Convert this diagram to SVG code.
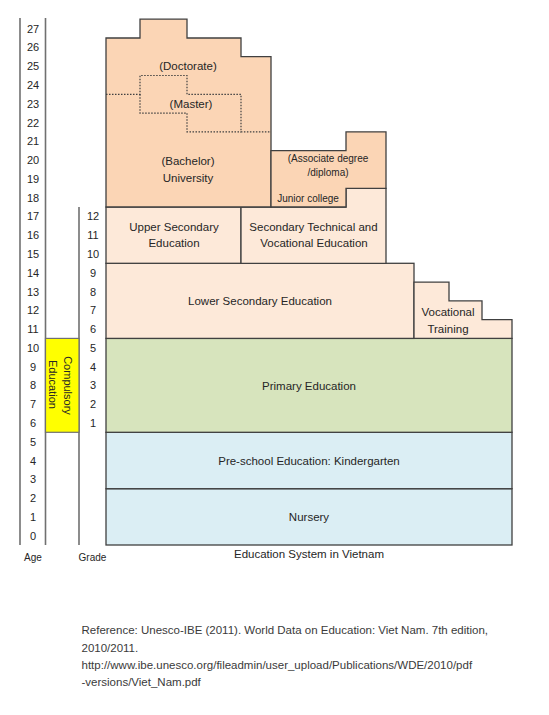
<svg xmlns="http://www.w3.org/2000/svg" width="549" height="715" viewBox="0 0 549 715">
<style>
text{font-family:"Liberation Sans",Arial,sans-serif;fill:#262626;}
.t{font-size:11.5px;text-anchor:middle;}
.s{font-size:10px;text-anchor:middle;}
.ax{font-size:11px;text-anchor:middle;}
.ref{font-size:11.5px;fill:#3a3a3a;}
.box{stroke:#404040;stroke-width:1.3;}
.uni{fill:#FBD5B5;}
.lt{fill:#FDE9D9;}
.grn{fill:#D7E4BD;}
.blu{fill:#DBEEF4;}
.dot{fill:none;stroke:#404040;stroke-width:1.2;stroke-dasharray:1.5,1.5;}
.axis{stroke:#707070;stroke-width:1.6;fill:none;}
</style>
<rect width="549" height="715" fill="#ffffff"/>

<g id="axes">
<line class="axis" x1="20" y1="18" x2="20" y2="545"/>
<line class="axis" x1="45.5" y1="18" x2="45.5" y2="545"/>
<line class="axis" x1="79" y1="207" x2="79" y2="545"/>
</g>

<g id="compulsory">
<rect x="45.5" y="338.4" width="33.5" height="93.9" fill="#FFFF00" stroke="#707070" stroke-width="1.2"/>
<text class="ax" transform="translate(64,385.5) rotate(90)">Compulsory</text>
<text class="ax" transform="translate(48.5,384.5) rotate(90)">Education</text>
</g>

<g id="age-labels" class="ax">
<text class="ax" x="33" y="539.6">0</text>
<text class="ax" x="33" y="520.8">1</text>
<text class="ax" x="33" y="502.1">2</text>
<text class="ax" x="33" y="483.3">3</text>
<text class="ax" x="33" y="464.5">4</text>
<text class="ax" x="33" y="445.7">5</text>
<text class="ax" x="33" y="426.9">6</text>
<text class="ax" x="33" y="408.2">7</text>
<text class="ax" x="33" y="389.4">8</text>
<text class="ax" x="33" y="370.6">9</text>
<text class="ax" x="33" y="351.8">10</text>
<text class="ax" x="33" y="333.1">11</text>
<text class="ax" x="33" y="314.3">12</text>
<text class="ax" x="33" y="295.5">13</text>
<text class="ax" x="33" y="276.7">14</text>
<text class="ax" x="33" y="257.9">15</text>
<text class="ax" x="33" y="239.2">16</text>
<text class="ax" x="33" y="220.4">17</text>
<text class="ax" x="33" y="201.6">18</text>
<text class="ax" x="33" y="182.8">19</text>
<text class="ax" x="33" y="164.0">20</text>
<text class="ax" x="33" y="145.3">21</text>
<text class="ax" x="33" y="126.5">22</text>
<text class="ax" x="33" y="107.7">23</text>
<text class="ax" x="33" y="88.9">24</text>
<text class="ax" x="33" y="70.2">25</text>
<text class="ax" x="33" y="51.4">26</text>
<text class="ax" x="33" y="32.6">27</text>
</g>

<g id="grade-labels">
<text class="ax" x="93" y="426.9">1</text>
<text class="ax" x="93" y="408.2">2</text>
<text class="ax" x="93" y="389.4">3</text>
<text class="ax" x="93" y="370.6">4</text>
<text class="ax" x="93" y="351.8">5</text>
<text class="ax" x="93" y="333.1">6</text>
<text class="ax" x="93" y="314.3">7</text>
<text class="ax" x="93" y="295.5">8</text>
<text class="ax" x="93" y="276.7">9</text>
<text class="ax" x="93" y="257.9">10</text>
<text class="ax" x="93" y="239.2">11</text>
<text class="ax" x="93" y="220.4">12</text>
</g>

<g id="nursery">
<rect class="box blu" x="106" y="488.7" width="406" height="56.3"/>
<text class="t" x="309" y="521">Nursery</text>
</g>
<g id="preschool">
<rect class="box blu" x="106" y="432.3" width="406" height="56.4"/>
<text class="t" x="309" y="464.5">Pre-school Education: Kindergarten</text>
</g>
<g id="primary">
<rect class="box grn" x="106" y="338.4" width="406" height="93.9"/>
<text class="t" x="309" y="389.5">Primary Education</text>
</g>
<g id="lower-secondary">
<rect class="box lt" x="106" y="263.3" width="308" height="75.1"/>
<text class="t" x="260" y="305">Lower Secondary Education</text>
</g>
<g id="vocational-training">
<path class="box lt" d="M414,338.4 L414,282.1 L449,282.1 L449,300.9 L482,300.9 L482,319.6 L512,319.6 L512,338.4 Z"/>
<text class="t" x="448" y="315.5">Vocational</text>
<text class="t" x="448" y="333">Training</text>
</g>
<g id="upper-secondary">
<rect class="box lt" x="106" y="207" width="135" height="56.3"/>
<text class="t" x="174" y="230.7">Upper Secondary</text>
<text class="t" x="174" y="247.3">Education</text>
</g>
<g id="secondary-technical">
<path class="box lt" d="M241,207 L346,207 L346,188.3 L386,188.3 L386,263.3 L241,263.3 Z"/>
<text class="t" x="313.5" y="230.7">Secondary Technical and</text>
<text class="t" x="314" y="247.3">Vocational Education</text>
</g>
<g id="university">
<path class="box uni" d="M106,207 L106,38 L140,38 L140,19.2 L187,19.2 L187,38 L241,38 L241,56.7 L271,56.7 L271,207 Z"/>
<path class="dot" d="M106,94.3 L140,94.3 L140,75.5 L187,75.5 L187,94.3 L241,94.3 L241,131.8 L271,131.8"/>
<path class="dot" d="M140,94.3 L140,113.1 L187,113.1 L187,131.8 L241,131.8"/>
<text class="t" x="188" y="70">(Doctorate)</text>
<text class="t" x="191" y="108">(Master)</text>
<text class="t" x="188" y="165">(Bachelor)</text>
<text class="t" x="188" y="182">University</text>
</g>
<g id="junior-college">
<path class="box uni" d="M271,207 L271,150.6 L346,150.6 L346,131.8 L386,131.8 L386,188.3 L346,188.3 L346,207 Z"/>
<text class="s" x="328" y="161.5">(Associate degree</text>
<text class="s" x="328" y="175.5">/diploma)</text>
<text class="s" x="308" y="201.5">Junior college</text>
</g>

<g id="captions">
<text class="s" x="33" y="560.5">Age</text>
<text class="s" x="92.5" y="560.5">Grade</text>
<text class="t" x="309" y="558">Education System in Vietnam</text>
</g>

<g id="reference">
<text class="ref" x="81.5" y="634">Reference: Unesco-IBE (2011). World Data on Education: Viet Nam. 7th edition,</text>
<text class="ref" x="81.5" y="651.5">2010/2011.</text>
<text class="ref" x="81.5" y="669">http://www.ibe.unesco.org/fileadmin/user_upload/Publications/WDE/2010/pdf</text>
<text class="ref" x="81.5" y="686">-versions/Viet_Nam.pdf</text>
</g>
</svg>
